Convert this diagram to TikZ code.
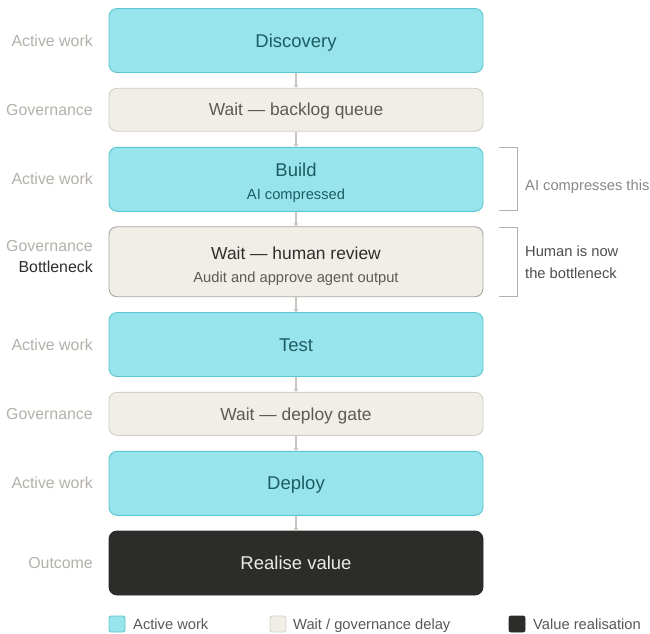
\documentclass[tikz,border=0pt]{standalone}
\usepackage{fontspec}
\setmainfont{Liberation Sans}
\usetikzlibrary{arrows.meta}
\definecolor{actfill}{HTML}{97E4EC}
\definecolor{actdraw}{HTML}{5CC6D2}
\definecolor{acttext}{HTML}{1E5C63}
\definecolor{waitfill}{HTML}{F1EEE8}
\definecolor{waitdraw}{HTML}{D3CFC7}
\definecolor{waitdrawdark}{HTML}{ABA79F}
\definecolor{waittext}{HTML}{5C5A56}
\definecolor{valfill}{HTML}{2C2C2A}
\definecolor{valtext}{HTML}{EDEBE5}
\definecolor{sidelabel}{HTML}{B4B1AA}
\definecolor{linkgray}{HTML}{C9C5BE}
\definecolor{notetext}{HTML}{8A8884}
\definecolor{darktext}{HTML}{2E2E2C}
\tikzset{
  stage/.style={rounded corners=8pt, minimum width=374pt, inner sep=0pt, align=center, line width=0.9pt,
                text depth=0pt},
  active/.style={stage, fill=actfill, draw=actdraw, text=acttext, minimum height=64pt,
                 font=\fontsize{18.5}{22}\selectfont, text height=13.3pt},
  waitbox/.style={stage, fill=waitfill, draw=waitdraw, text=waittext, minimum height=43pt,
                  font=\fontsize{17.4}{21}\selectfont, text height=12.5pt},
  valuebox/.style={stage, fill=valfill, draw=valfill, text=valtext, minimum height=64pt,
                   font=\fontsize{18.5}{22}\selectfont, text height=13.3pt},
  title/.style={anchor=base, inner sep=0pt},
  subtitle/.style={anchor=base, inner sep=0pt, font=\fontsize{14.7}{17}\selectfont},
  side/.style={anchor=east, text=sidelabel, font=\fontsize{15.9}{19}\selectfont, inner sep=0pt,
               text height=11.4pt, text depth=0pt},
  link/.style={draw=linkgray, line width=1.6pt, -{Stealth[length=3pt,width=5pt]}},
  bracket/.style={draw=sidelabel, line width=0.9pt},
  note/.style={anchor=base west, text=notetext, font=\fontsize{14.7}{17}\selectfont, inner sep=0pt},
  legsq/.style={rounded corners=2pt, minimum size=16pt, inner sep=0pt, line width=0.8pt},
  legtext/.style={anchor=west, text=darktext!80, font=\fontsize{14.7}{17}\selectfont, inner sep=0pt,
                  text height=10.6pt, text depth=0pt}
}
\begin{document}
\begin{tikzpicture}[x=1pt, y=-1pt]
\useasboundingbox (0,0) rectangle (650,633);
\fill[white] (0,0) rectangle (650,633);

% stages
\node[active] (disc) at (296,40.5) {Discovery};
\node[waitbox] (q1) at (296,109.7) {Wait — backlog queue};
\node[active] (build) at (296,179.3) {};
\node[title, text=acttext, font=\fontsize{18.5}{22}\selectfont] (buildT) at ([yshift=3pt]build.center) {Build};
\node[subtitle, text=acttext] (buildS) at ([yshift=-19.7pt]build.center) {AI compressed};
\node[waitbox, draw=waitdrawdark, minimum height=70pt] (review) at (296,261.7) {};
\node[title, text=darktext, font=\fontsize{17.4}{21}\selectfont] (reviewT) at ([yshift=2.4pt]review.center) {Wait — human review};
\node[subtitle, text=waittext] (reviewS) at ([yshift=-21pt]review.center) {Audit and approve agent output};
\node[active] (test) at (296,344.5) {Test};
\node[waitbox] (q2) at (296,413.8) {Wait — deploy gate};
\node[active] (deploy) at (296,483.3) {Deploy};
\node[valuebox] (value) at (296,563) {Realise value};

% links
\draw[link] (disc.south) -- (q1.north);
\draw[link] (q1.south) -- (build.north);
\draw[link] (build.south) -- (review.north);
\draw[link] (review.south) -- (test.north);
\draw[link] (test.south) -- (q2.north);
\draw[link] (q2.south) -- (deploy.north);
\draw[link] (deploy.south) -- (value.north);

% lane labels
\node[side] (l1) at (93,40.5) {Active work};
\node[side] (l2) at (93,110) {Governance};
\node[side] (l3) at (93,179) {Active work};
\node[side] (l4) at (93,245.5) {Governance};
\node[side, text=darktext] (l4b) at (93,267) {Bottleneck};
\node[side] (l5) at (93,344.5) {Active work};
\node[side] (l6) at (93,414) {Governance};
\node[side] (l7) at (93,483) {Active work};
\node[side] (l8) at (93,563) {Outcome};

% brackets and notes
\draw[bracket] (499,147.5) -- (517,147.5) -- (517,210.5) -- (499,210.5);
\node[note] (n1) at (525,190.3) {AI compresses this};
\draw[bracket] (499,227.5) -- (517,227.5) -- (517,296.5) -- (499,296.5);
\node[note, text=darktext!85] (n2) at (525,256.7) {Human is now};
\node[note, text=darktext!85] (n3) at (525,278.3) {the bottleneck};

% legend
\node[legsq, fill=actfill, draw=actdraw] (k1) at (117,624) {};
\node[legtext] (t1) at (133,624) {Active work};
\node[legsq, fill=waitfill, draw=waitdraw] (k2) at (278,624) {};
\node[legtext] (t2) at (293,624) {Wait / governance delay};
\node[legsq, fill=valfill, draw=valfill] (k3) at (517,624) {};
\node[legtext] (t3) at (533,624) {Value realisation};
\end{tikzpicture}
\end{document}
